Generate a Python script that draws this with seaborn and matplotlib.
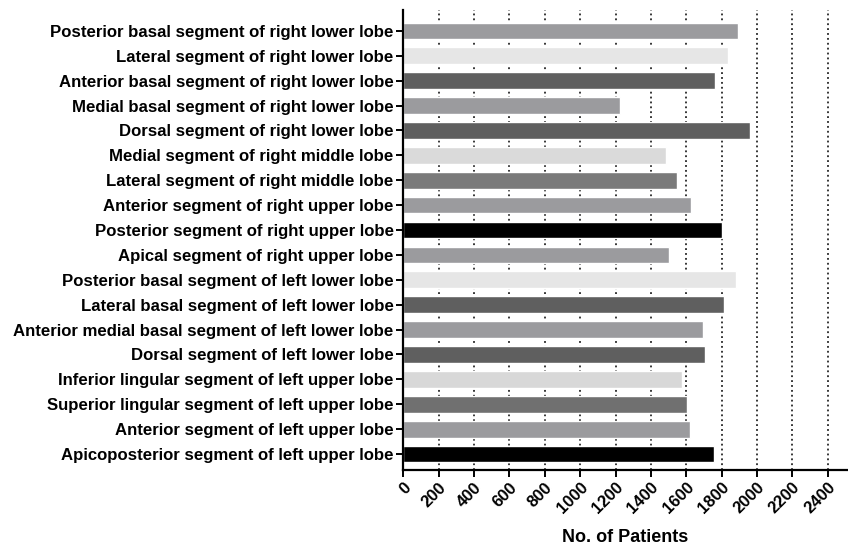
import matplotlib
matplotlib.use("Agg")
import matplotlib.pyplot as plt
import seaborn as sns
import pandas as pd

categories = [
    "Posterior basal segment of right lower lobe",
    "Lateral segment of right lower lobe",
    "Anterior basal segment of right lower lobe",
    "Medial basal segment of right lower lobe",
    "Dorsal segment of right lower lobe",
    "Medial segment of right middle lobe",
    "Lateral segment of right middle lobe",
    "Anterior segment of right upper lobe",
    "Posterior segment of right upper lobe",
    "Apical segment of right upper lobe",
    "Posterior basal segment of left lower lobe",
    "Lateral basal segment of left lower lobe",
    "Anterior medial basal segment of left lower lobe",
    "Dorsal segment of left lower lobe",
    "Inferior lingular segment of left upper lobe",
    "Superior lingular segment of left upper lobe",
    "Anterior segment of left upper lobe",
    "Apicoposterior segment of left upper lobe",
]
patients = [1894, 1835, 1764, 1224, 1958, 1483, 1549, 1628, 1803,
            1502, 1882, 1813, 1696, 1707, 1574, 1602, 1621, 1756]
colors = ["#9b9b9e", "#e6e6e6", "#5f5f5f", "#9b9b9e", "#5f5f5f", "#dadada",
          "#7a7a7a", "#9b9b9e", "#000000", "#9b9b9e", "#e6e6e6", "#5f5f5f",
          "#9b9b9e", "#5f5f5f", "#d8d8d8", "#707070", "#9b9b9e", "#000000"]
xticks = list(range(0, 2401, 200))

sns.set_style("white")
plt.rcParams["font.family"] = ["Liberation Sans", "DejaVu Sans"]
plt.rcParams["text.color"] = "black"
plt.rcParams["axes.labelcolor"] = "black"
plt.rcParams["xtick.color"] = "black"
plt.rcParams["ytick.color"] = "black"

df = pd.DataFrame({"segment": categories, "patients": patients})

fig = plt.figure(figsize=(8.48, 5.47), dpi=100)
ax = fig.add_axes([0.4756, 0.1408, 0.5234, 0.8409])

sns.barplot(data=df, y="segment", x="patients", hue="segment",
            palette=colors, orient="h", width=0.67, legend=False,
            saturation=1, ax=ax, zorder=2)

for t in xticks[1:]:
    ax.axvline(t, color="black", linestyle=(0, (1.2, 2.0)), linewidth=1.1, zorder=1)

ax.set_xlim(0, 2510)
ax.set_ylim(17.64, -0.84)
ax.set_xticks(xticks)
ax.set_xticklabels([str(t) for t in xticks], rotation=45, ha="right",
                   rotation_mode="anchor", fontsize=12, fontweight="bold")
ax.set_yticks(range(len(categories)))
ax.set_yticklabels(categories, fontsize=12.1, fontweight="bold")
ax.set_xlabel("No. of Patients", fontsize=13, fontweight="bold", labelpad=9)
ax.set_ylabel("")

for s in ["top", "right"]:
    ax.spines[s].set_visible(False)
for s in ["left", "bottom"]:
    ax.spines[s].set_linewidth(1.6)
    ax.spines[s].set_color("black")
ax.tick_params(axis="both", which="major", direction="out", length=5,
               width=1.4, color="black", left=True, bottom=True, pad=2)
ax.grid(False)

fig.savefig("out.png", dpi=100)
